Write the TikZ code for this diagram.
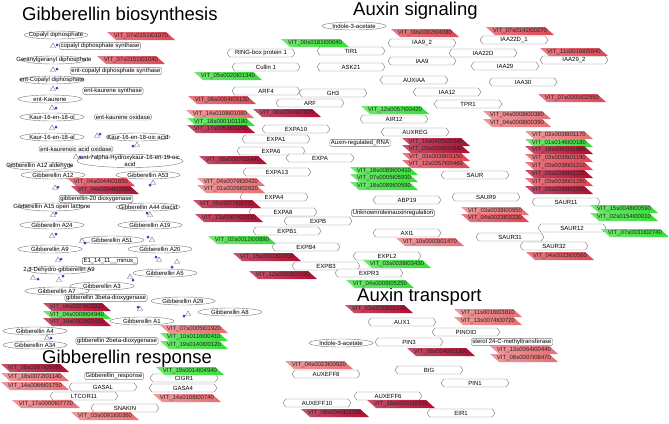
\documentclass[tikz,border=0pt]{standalone}
\usepackage{fontspec}
\usetikzlibrary{shapes.geometric,shapes.symbols}
\newfontfamily\labf{Liberation Sans}
\newcommand\lab{\labf\fontsize{6}{6.5}\selectfont}
\newcommand\ttlf{\labf\fontsize{18.5}{20}\selectfont}
\newcommand\z[1]{\makebox[0pt]{#1}}
\newcommand\rxn[5]{\node[tri] (t#1) at (#2,#3) {}; \node[bdot] (d#1) at (#4,#5) {};}
\newcommand\prl[5]{\shade[left color=#2!72, right color=#2] ({#3-34},{#4-4}) -- ({#3+25},{#4-4}) -- ({#3+34},{#4+4}) -- ({#3-25},{#4+4}) -- cycle; \node[ptxt] (#1) at (#3,#4) {#5};}
\definecolor{dred}{RGB}{176,14,50}
\definecolor{mred}{RGB}{222,70,84}
\definecolor{lred}{RGB}{232,112,116}
\definecolor{pgrn}{RGB}{56,222,56}
\definecolor{epink}{RGB}{236,160,160}
\definecolor{eblue}{RGB}{50,60,210}
\definecolor{ecyan}{RGB}{70,215,215}
\definecolor{eorange}{RGB}{244,180,110}
\definecolor{egreen}{RGB}{120,230,120}
\definecolor{eyellow}{RGB}{235,230,100}
\definecolor{egray}{RGB}{70,70,80}
\definecolor{edred}{RGB}{150,40,60}
\definecolor{bord}{RGB}{120,120,120}
\pgfdeclarelayer{bg}
\pgfsetlayers{bg,main}
\tikzset{
 ttl/.style={font=\ttlf, inner sep=0pt, anchor=base west},
 cpd/.style={ellipse, draw=bord, fill=white, line width=0.4pt, minimum width=64pt, minimum height=8pt, inner sep=0pt, font=\lab},
 enz/.style={rectangle, rounded corners=1.5pt, draw=bord, fill=white, line width=0.4pt, inner xsep=1.2pt, inner ysep=0.8pt, font=\lab},
 hx/.style={signal, signal to=east and west, signal pointer angle=110, draw=bord, fill=white, line width=0.4pt, minimum width=68pt, minimum height=8pt, inner sep=0pt, font=\lab},
 ptxt/.style={rectangle, inner sep=0pt, minimum width=56pt, minimum height=8pt, font=\lab, text=black!85},
 tri/.style={regular polygon, regular polygon sides=3, draw=bord, fill=white, line width=0.4pt, minimum size=6pt, inner sep=0pt},
 bdot/.style={circle, fill=eblue, minimum size=3pt, inner sep=0pt},
 ep/.style={draw=epink, line width=0.5pt},
 eb/.style={draw=eblue, line width=0.5pt},
 ec/.style={draw=ecyan, line width=0.5pt},
 eo/.style={draw=eorange, line width=0.5pt},
 eg/.style={draw=egreen, line width=0.5pt},
 ey/.style={draw=eyellow, line width=0.5pt},
 ek/.style={draw=egray, line width=0.5pt},
 er/.style={draw=edred, line width=0.5pt},
}
\begin{document}
\begin{tikzpicture}[x=1pt,y=-1pt]
\fill[white] (0,0) rectangle (669,423);
\useasboundingbox (0,0) rectangle (669,423);
% titles
\node[ttl] (ttlA) at (22,20) {Gibberellin biosynthesis};
\node[ttl] (ttlB) at (353,15) {Auxin signaling};
\node[ttl] (ttlC) at (357,301) {Auxin transport};
\node[ttl] (ttlD) at (42,363) {Gibberellin response};
% ---------------- Gibberellin biosynthesis
\node[cpd] (cpp) at (56,35) {\z{Copalyl diphosphate}};
\node[cpd] (ggpp) at (54,60) {\z{Geranylgeranyl diphosphate}};
\node[cpd] (entcpp) at (52,80) {\z{ent-Copalyl diphosphate}};
\node[cpd] (entk) at (50,99) {\z{ent-Kaurene}};
\node[cpd] (kol) at (52,117) {\z{Kaur-16-en-18-ol}};
\node[cpd] (kal) at (52,137) {\z{Kaur-16-en-18-al}};
\node[cpd] (koic) at (138,137) {\z{Kaur-16-en-18-oic acid}};
\node[cpd, minimum width=106pt, minimum height=13pt, label={[font=\lab, align=center, inner sep=0pt]center:{ent-7alpha-Hydroxykaur-16-en-19-oic\\acid}}] (e7a) at (130,161) {};
\node[cpd] (ga12ald) at (40,166) {\z{Gibberellin A12 aldehyde}};
\node[cpd] (ga12) at (53,175) {\z{Gibberellin A12}};
\node[cpd] (ga53) at (148,175) {\z{Gibberellin A53}};
\node[cpd] (ga15) at (52,207) {\z{Gibberellin A15 open lactone}};
\node[cpd] (ga44) at (148,207) {\z{Gibberellin A44 diacid}};
\node[cpd] (ga24) at (52,225) {\z{Gibberellin A24}};
\node[cpd] (ga19) at (150,225) {\z{Gibberellin A19}};
\node[cpd] (ga51) at (112,240) {\z{Gibberellin A51}};
\node[cpd] (ga9) at (50,249) {\z{Gibberellin A9}};
\node[cpd] (ga20) at (160,249) {\z{Gibberellin A20}};
\node[cpd] (dga9) at (59,270) {\z{2,3-Dehydro-gibberellin A9}};
\node[cpd] (ga5) at (165,273) {\z{Gibberellin A5}};
\node[cpd] (ga3) at (102,286) {\z{Gibberellin A3}};
\node[cpd] (ga7) at (57,291) {\z{Gibberellin A7}};
\node[cpd] (ga29) at (183,301) {\z{Gibberellin A29}};
\node[cpd] (ga8) at (230,312) {\z{Gibberellin A8}};
\node[cpd] (ga1) at (142,321) {\z{Gibberellin A1}};
\node[cpd] (ga4) at (35,331) {\z{Gibberellin A4}};
\node[cpd] (ga34) at (35,345) {\z{Gibberellin A34}};
% enzymes
\node[enz] (en1) at (100,46) {copalyl diphosphate synthase};
\node[enz] (en2) at (116,71) {ent-copalyl diphosphate synthase};
\node[enz] (en3) at (113,91) {ent-kaurene synthase};
\node[enz] (en4) at (123,117) {ent-kaurene oxidase};
\node[enz] (en5) at (76,149) {ent-kaurenoic acid oxidase};
\node[enz] (en6) at (96,199) {gibberellin-20 dioxygenase};
\node[enz] (en7) at (110,261) {E1\_14\_11\_\_minus\_};
\node[enz] (en8) at (106,298) {gibberellin 3beta-dioxygenase};
\node[enz] (en9) at (117,341) {gibberellin 2beta-dioxygenase};
% reactions
\rxn{1}{53}{46}{57}{45}
\rxn{2}{53}{70}{57}{69}
\rxn{3}{53}{89}{57}{88}
\rxn{4}{52}{108}{56}{108}
\rxn{5}{52}{128}{56}{127}
\rxn{6}{97}{136}{100}{134}
\rxn{7}{137}{145}{133}{146}
\rxn{8}{76}{157}{80}{157}
\rxn{10}{55}{188}{58}{187}
\rxn{11}{153}{183}{150}{185}
\rxn{12}{53}{215}{56}{213}
\rxn{13}{150}{215}{147}{213}
\rxn{14}{52}{236}{56}{234}
\rxn{15}{152}{240}{148}{237}
\rxn{16}{82}{241}{85}{243}
\rxn{17}{58}{260}{61}{259}
\rxn{18}{159}{260}{156}{257}
\rxn{19}{33}{278}{38}{279}
\rxn{20}{177}{262}{172}{267}
\rxn{21}{130}{277}{133}{280}
\rxn{22}{140}{309}{138}{307}
\rxn{23}{59}{280}{63}{276}
\rxn{24}{188}{314}{184}{316}
\rxn{25}{47}{338}{51}{338}
% GA paras
\prl{pg1}{mred}{141}{36}{VIT\_07s0151t01070}
\prl{pg2}{mred}{131}{60}{VIT\_07s0151t01040}
\prl{pg3}{mred}{101}{182}{VIT\_04s0044t01650}
\prl{pg4}{dred}{105}{190}{VIT\_04s0044t02010}
\prl{pg5}{dred}{77}{307}{VIT\_04s0023t03810}
\prl{pg6}{pgrn}{77}{315}{VIT\_04s0008t04940}
\prl{pg7}{dred}{77}{322}{VIT\_10s0003t02410}
\prl{pg8}{lred}{194}{329}{VIT\_07s0005t01920}
\prl{pg9}{pgrn}{194}{337}{VIT\_10s0116t00410}
\prl{pg10}{pgrn}{194}{345}{VIT\_19s0140t00120}
% ---------------- Gibberellin response
\node[enz] (garesp) at (114,376) {Gibberellin\_response};
\node[hx] (gasal) at (103,387) {\z{GASAL}};
\node[hx] (cigr1) at (184,378) {\z{CIGR1}};
\node[hx] (gasa4) at (183,388) {\z{GASA4}};
\node[hx] (ltcor11) at (84,396) {\z{LTCOR11}};
\node[hx] (snakin) at (125,408) {\z{SNAKIN}};
\prl{pr1}{dred}{35}{368}{VIT\_08s0007t05080}
\prl{pr2}{lred}{35}{377}{VIT\_18s0072t01140}
\prl{pr3}{lred}{35}{386}{VIT\_14s0066t01750}
\prl{pr4}{pgrn}{190}{371}{VIT\_19s0014t04940}
\prl{pr5}{lred}{187}{398}{VIT\_14s0108t00740}
\prl{pr6}{lred}{46}{404}{VIT\_17s0000t07770}
\prl{pr7}{lred}{105}{416}{VIT\_03s0091t00360}
% ---------------- Auxin signaling
\node[cpd] (iaa1) at (354,26) {\z{Indole-3-acetate}};
\node[hx] (rbx) at (261,53) {\z{RING-box protein 1}};
\node[hx] (tir1) at (351,51) {\z{TIR1}};
\node[hx] (cul) at (266,67) {\z{Cullin 1}};
\node[hx] (ask) at (351,67) {\z{ASK21}};
\node[hx] (arf4) at (266,91) {\z{ARF4}};
\node[hx] (gh3) at (333,93) {\z{GH3}};
\node[hx] (arf) at (310,103) {\z{ARF}};
\node[hx] (iaa92) at (422,43) {\z{IAA9\_2}};
\node[hx] (iaa22d) at (483,53) {\z{IAA22D}};
\node[hx] (iaa9) at (422,61) {\z{IAA9}};
\node[hx] (iaa29) at (505,66) {\z{IAA29}};
\node[hx] (auxiaa) at (414,80) {\z{AUXIAA}};
\node[hx] (iaa30) at (523,82) {\z{IAA30}};
\node[hx] (iaa12) at (447,92) {\z{IAA12}};
\node[hx] (tpr1) at (468,104) {\z{TPR1}};
\node[hx] (iaa22d1) at (514,40) {\z{IAA22D\_1}};
\node[hx] (iaa292) at (574,60) {\z{IAA29\_2}};
\node[hx] (exa10) at (296,129) {\z{EXPA10}};
\node[hx] (exa1) at (276,139) {\z{EXPA1}};
\node[hx] (exa6) at (271,151) {\z{EXPA6}};
\node[hx] (expa) at (320,158) {\z{EXPA}};
\node[hx] (exa13) at (277,172) {\z{EXPA13}};
\node[hx] (exa4) at (274,197) {\z{EXPA4}};
\node[hx] (exa8) at (283,212) {\z{EXPA8}};
\node[hx] (expb) at (318,221) {\z{EXPB}};
\node[hx] (exb1) at (287,231) {\z{EXPB1}};
\node[hx] (exb4) at (306,247) {\z{EXPB4}};
\node[hx] (exb3) at (326,266) {\z{EXPB3}};
\node[hx] (expl2) at (387,256) {\z{EXPL2}};
\node[hx] (expr3) at (369,273) {\z{EXPR3}};
\node[hx] (air12) at (394,119) {\z{AIR12}};
\node[hx] (auxreg) at (415,132) {\z{AUXREG}};
\node[enz] (arna) at (360,143) {Auxin-regulated\_RNA};
\node[hx] (saur) at (475,175) {\z{SAUR}};
\node[hx] (abp19) at (407,200) {\z{ABP19}};
\node[hx] (saur9) at (486,197) {\z{SAUR9}};
\node[enz] (unk) at (393,213) {Unknownroleinauxinregulation};
\node[hx] (axi1) at (407,233) {\z{AXI1}};
\node[hx] (saur11) at (566,202) {\z{SAUR11}};
\node[hx] (saur12) at (572,228) {\z{SAUR12}};
\node[hx] (saur31) at (510,237) {\z{SAUR31}};
\node[hx] (saur32) at (554,246) {\z{SAUR32}};
% signaling paras
\prl{pA1}{pgrn}{315}{43}{VIT\_00s0181t00040}
\prl{pA2}{pgrn}{228}{76}{VIT\_05s0020t01340}
\prl{pA3}{mred}{425}{33}{VIT\_09s0002t04080}
\prl{pA4}{mred}{520}{31}{VIT\_07s0141t00270}
\prl{pA5}{mred}{574}{52}{VIT\_11s0016t05840}
\prl{pA6}{mred}{572}{98}{VIT\_07s0005t02550}
\prl{pA7}{mred}{222}{100}{VIT\_06s0004t03130}
\prl{pT}{pgrn}{395}{110}{VIT\_12s0057t00420}
\prl{pE1}{lred}{220}{114}{VIT\_14s0108t01080}
\prl{pE2}{pgrn}{221}{122}{VIT\_18s0001t01180}
\prl{pE3}{dred}{221}{129}{VIT\_17s0053t00290}
\prl{pE4}{dred}{287}{113}{VIT\_06s0004t07970}
\prl{pE5}{dred}{233}{160}{VIT\_08s0007t03440}
\prl{pE6}{lred}{231}{182}{VIT\_04s0079t00420}
\prl{pE7}{lred}{231}{189}{VIT\_01s0026t02620}
\prl{pE8}{dred}{227}{204}{VIT\_05s0077t00720}
\prl{pE9}{dred}{229}{218}{VIT\_13s0067t02930}
\prl{pE10}{pgrn}{242}{240}{VIT\_02s0012t00890}
\prl{pE11}{dred}{267}{257}{VIT\_15s0021t02700}
\prl{pE12}{dred}{283}{275}{VIT\_12s0059t00190}
\prl{pE13}{pgrn}{397}{264}{VIT\_03s0038t03430}
\prl{pE14}{pgrn}{380}{284}{VIT\_04s0008t05250}
\prl{pE15}{lred}{430}{242}{VIT\_10s0003t01470}
\prl{pG1}{pgrn}{384}{171}{VIT\_18s0089t00410}
\prl{pG2}{pgrn}{384}{178}{VIT\_07s0005t05930}
\prl{pG3}{pgrn}{384}{186}{VIT\_18s0089t00590}
\prl{pR1}{dred}{436}{142}{VIT\_10s0405t00340}
\prl{pR2}{dred}{436}{149}{VIT\_03s0038t00940}
\prl{pR3}{mred}{436}{157}{VIT\_03s0038t01150}
\prl{pR4}{mred}{436}{164}{VIT\_12s0057t00460}
\prl{pS1}{lred}{517}{115}{VIT\_04s0008t00380}
\prl{pS2}{lred}{517}{123}{VIT\_04s0008t00390}
\prl{pC1}{lred}{559}{135}{VIT\_03s0038t01170}
\prl{pC2}{pgrn}{559}{143}{VIT\_01s0146t00180}
\prl{pC3}{dred}{559}{150}{VIT\_18s0001t11980}
\prl{pC4}{mred}{559}{158}{VIT\_03s0038t01190}
\prl{pC5}{mred}{559}{166}{VIT\_03s0038t01210}
\prl{pC6}{dred}{559}{174}{VIT\_03s0038t01230}
\prl{pC7}{mred}{559}{182}{VIT\_03s0038t01280}
\prl{pC8}{dred}{559}{190}{VIT\_03s0038t01250}
\prl{pU1}{lred}{495}{211}{VIT\_03s0038t00950}
\prl{pU2}{mred}{495}{218}{VIT\_04s0023t03230}
\prl{pV1}{pgrn}{624}{209}{VIT\_15s0048t00590}
\prl{pV2}{pgrn}{624}{217}{VIT\_02s0154t00010}
\prl{pW}{pgrn}{635}{233}{VIT\_07s0031t02740}
\prl{pX}{mred}{560}{256}{VIT\_04s0023t00560}
% ---------------- Auxin transport
\node[cpd] (iaa2) at (341,343) {\z{Indole-3-acetate}};
\node[hx] (aux1) at (402,322) {\z{AUX1}};
\node[hx] (pin3) at (409,342) {\z{PIN3}};
\node[hx] (pinoid) at (466,332) {\z{PINOID}};
\node[enz] (sterol) at (512,342) {sterol 24-C-methyltransferase};
\node[hx] (big) at (429,370) {\z{BIG}};
\node[hx] (pin1) at (475,383) {\z{PIN1}};
\node[hx] (auxeff8) at (326,374) {\z{AUXEFF8}};
\node[hx] (auxeff6) at (388,396) {\z{AUXEFF6}};
\node[hx] (auxeff10) at (317,403) {\z{AUXEFF10}};
\node[hx] (eir1) at (461,413) {\z{EIR1}};
\prl{pt1}{dred}{379}{309}{VIT\_03s0038t02140}
\prl{pt2}{lred}{488}{313}{VIT\_11s0016t03810}
\prl{pt3}{lred}{488}{321}{VIT\_13s0074t00720}
\prl{pt4}{dred}{441}{352}{VIT\_08s0040t01200}
\prl{pt5}{lred}{524}{350}{VIT\_13s0064t00440}
\prl{pt6}{lred}{524}{358}{VIT\_08s0007t08470}
\prl{pt7}{lred}{319}{365}{VIT\_04s0023t00920}
\prl{pt8}{dred}{401}{404}{VIT\_18s0001t15320}
\prl{pt9}{dred}{335}{413}{VIT\_08s0040t01390}
% ================= edges
\begin{pgfonlayer}{bg}
\draw[ep] (cpp) -- (t1) -- (ggpp) -- (t2) -- (entcpp) -- (t3) -- (entk) -- (t4) -- (kol) -- (t5) -- (kal) -- (t6) -- (koic) -- (t7) -- (e7a) -- (t8) -- (ga12ald) -- (ga12) -- (t10) -- (ga15) -- (t12) -- (ga24) -- (t14) -- (ga9);
\draw[ep] (ga53) -- (t11) -- (ga44) -- (t13) -- (ga19) -- (t15) -- (ga20);
\draw[ep] (ga9) -- (t16) -- (ga51);
\draw[ep] (ga9) -- (t17) -- (dga9) -- (t19) -- (ga4) -- (t25) -- (ga34);
\draw[ep] (dga9) -- (t23) -- (ga7);
\draw[ep] (ga20) -- (t18) -- (ga3);
\draw[ep] (ga20) -- (t20) -- (ga5) -- (t21) -- (ga3);
\draw[ep] (ga20) -- (t22) -- (ga1) -- (t24) -- (ga8);
\draw[ep] (ga5) -- (ga29);
\foreach \a/\b in {d1/en1,d2/en2,d3/en3,d4/en4,d5/en4,d6/en4,d7/en5,d8/en5,d10/en6,d11/en6,d12/en6,d13/en6,d16/en9,d17/en7,d18/en7,d19/en7,d23/en7,d21/en7,d20/en8,d22/en8,d24/en9,d25/en9}
  \draw[eb] (\a) -- (\b);
\foreach \a/\b in {pg1/en1,pg2/en2,pg3/en6,pg4/en6,pg5/en8,pg6/en8,pg7/en8,pg8/en9,pg9/en9,pg10/en9}
  \draw[ec] (\a) -- (\b);
\foreach \a/\b in {pr1/gasal,pr2/gasal,pr3/gasal,pr6/ltcor11,pr7/snakin,pr4/cigr1,pr5/gasa4}
  \draw[ec] (\a) -- (\b);
\foreach \b in {gasal,cigr1,gasa4,snakin,ltcor11}
  \draw[eg] (garesp) -- (\b);
\draw[ey] (iaa1) -- (tir1) -- (ask);
\draw[ey] (rbx) -- (cul) -- (ask);
\draw[ek] (tir1) -- (auxiaa);
\foreach \b in {iaa92,iaa9,iaa22d,iaa29,iaa30,iaa12,iaa22d1,iaa292}
  \draw[eo] (auxiaa) -- (\b);
\draw[eo] (arf4) -- (arf);
\foreach \a/\b in {pA1/tir1,pA2/cul,pA3/iaa92,pA4/iaa22d1,pA5/iaa292,pA6/iaa30,pA7/arf4,iaa12/tpr1,pS1/tpr1,pS2/tpr1,pT/air12,pE1/exa10,pE2/exa1,pE3/exa1,pE4/exa10,pE5/exa6,pE6/exa13,pE7/exa4,pE8/exa8,pE9/exb1,pE10/exb4,pE11/exb3,pE12/exb3,pE13/expl2,pE14/expr3,pE15/axi1,pG1/abp19,pG2/abp19,pG3/abp19,pR1/auxreg,pR2/auxreg,pR3/auxreg,pR4/auxreg,pC1/saur,pC2/saur,pC3/saur,pC4/saur,pC5/saur,pC6/saur,pC7/saur,pC8/saur,pU1/saur9,pU2/saur9,pV1/saur11,pV2/saur11,pW/saur12,pX/saur32}
  \draw[ec] (\a) -- (\b);
\foreach \b in {gh3,arf,air12,auxreg,expa,expb,saur}
  \draw[eg] (arna) -- (\b);
\foreach \b in {exa10,exa1,exa6,exa13,exa4,exa8}
  \draw[eo] (expa) -- (\b);
\foreach \b in {exb1,exb4,exb3,expl2,expr3}
  \draw[eo] (expb) -- (\b);
\foreach \b in {saur9,saur11,saur12,saur31,saur32}
  \draw[eo] (saur) -- (\b);
\foreach \b in {aux1,auxeff8,auxeff6,big,eir1,pin1}
  \draw[er] (iaa2) -- (\b);
\draw[er] (auxeff8) -- (auxeff10);
\draw[er] (big) -- (pin1);
\foreach \a/\b in {big/auxeff8,big/auxeff10,big/auxeff6,big/eir1,pin3/eir1,pin1/eir1,sterol/pin1,pinoid/pin1,pin3/sterol}
  \draw[eg] (\a) -- (\b);
\foreach \a/\b in {pt1/aux1,pt2/pinoid,pt3/pinoid,pt4/pin3,pt5/sterol,pt6/sterol,pt7/auxeff8,pt8/auxeff6,pt9/auxeff10}
  \draw[ec] (\a) -- (\b);
\end{pgfonlayer}
\end{tikzpicture}
\end{document}
